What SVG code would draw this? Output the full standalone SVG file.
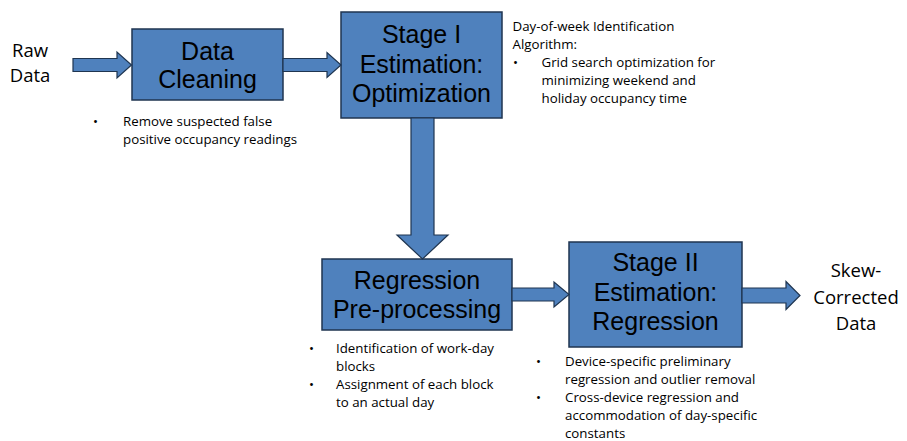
<svg xmlns="http://www.w3.org/2000/svg" width="907" height="441" viewBox="0 0 907 441">
<style>
.box{fill:#4F81BD;stroke:#1F3550;stroke-width:1.5}
.arr{fill:#4F81BD;stroke:#1F3550;stroke-width:1.2;stroke-linejoin:miter}
.bl{font-family:"Liberation Sans",Arial,sans-serif;font-size:25px;fill:#000;text-anchor:middle}
.io{font-family:"Open Sans","Liberation Sans",sans-serif;font-size:18.5px;fill:#000;text-anchor:middle}
.an{font-family:"Open Sans","Liberation Sans",sans-serif;font-size:13.3px;fill:#000}
</style>
<rect width="907" height="441" fill="#fff"/>
<g id="raw-data">
<text class="io" x="30" y="57">Raw</text>
<text class="io" x="30" y="82">Data</text>
</g>
<g id="data-cleaning">
<rect class="box" x="132" y="29" width="151" height="71"/>
<text class="bl" x="207.5" y="60">Data</text>
<text class="bl" x="207.5" y="88">Cleaning</text>
<text class="an" x="93" y="126">•</text>
<text class="an" x="123" y="126">Remove suspected false</text>
<text class="an" x="123" y="144">positive occupancy readings</text>
</g>
<g id="stage1">
<rect class="box" x="341" y="12" width="161" height="106"/>
<text class="bl" x="421.5" y="42.5">Stage I</text>
<text class="bl" x="421.5" y="72.5">Estimation:</text>
<text class="bl" x="421.5" y="102">Optimization</text>
<text class="an" x="512.5" y="31">Day-of-week Identification</text>
<text class="an" x="512.5" y="49">Algorithm:</text>
<text class="an" x="513" y="67">•</text>
<text class="an" x="541.5" y="67">Grid search optimization for</text>
<text class="an" x="541.5" y="85">minimizing weekend  and</text>
<text class="an" x="541.5" y="103">holiday occupancy time</text>
</g>
<g id="regression-preprocessing">
<rect class="box" x="322" y="259" width="190" height="71"/>
<text class="bl" x="417" y="289">Regression</text>
<text class="bl" x="417" y="317.5">Pre-processing</text>
<text class="an" x="309" y="353">•</text>
<text class="an" x="336" y="353">Identification of work-day</text>
<text class="an" x="336" y="371">blocks</text>
<text class="an" x="309" y="389">•</text>
<text class="an" x="336" y="389">Assignment of each block</text>
<text class="an" x="336" y="407">to an actual day</text>
</g>
<g id="stage2">
<rect class="box" x="569" y="242" width="173" height="105"/>
<text class="bl" x="655.5" y="270.5">Stage II</text>
<text class="bl" x="655.5" y="300.5">Estimation:</text>
<text class="bl" x="655.5" y="330">Regression</text>
<text class="an" x="536" y="366">•</text>
<text class="an" x="565" y="366">Device-specific preliminary</text>
<text class="an" x="565" y="384">regression and outlier removal</text>
<text class="an" x="536" y="402">•</text>
<text class="an" x="565" y="402">Cross-device regression and</text>
<text class="an" x="565" y="420">accommodation of day-specific</text>
<text class="an" x="565" y="438">constants</text>
</g>
<g id="skew-corrected-data">
<text class="io" x="856" y="277">Skew-</text>
<text class="io" x="856" y="304">Corrected</text>
<text class="io" x="856" y="330">Data</text>
</g>
<g id="connectors">
<polygon class="arr" points="73,58.5 117,58.5 117,52 131.5,65 117,78 117,71.5 73,71.5"/>
<polygon class="arr" points="283,58.5 327,58.5 327,52.5 341,65 327,77.5 327,71.5 283,71.5"/>
<polygon class="arr" points="411,118 434,118 434,235 448,235 422.5,259 397,235 411,235"/>
<polygon class="arr" points="512,288 554,288 554,282 569,294.5 554,307 554,301 512,301"/>
<polygon class="arr" points="742,288 786,288 786,281.5 800,295.5 786,309.5 786,303 742,303"/>
</g>
</svg>
